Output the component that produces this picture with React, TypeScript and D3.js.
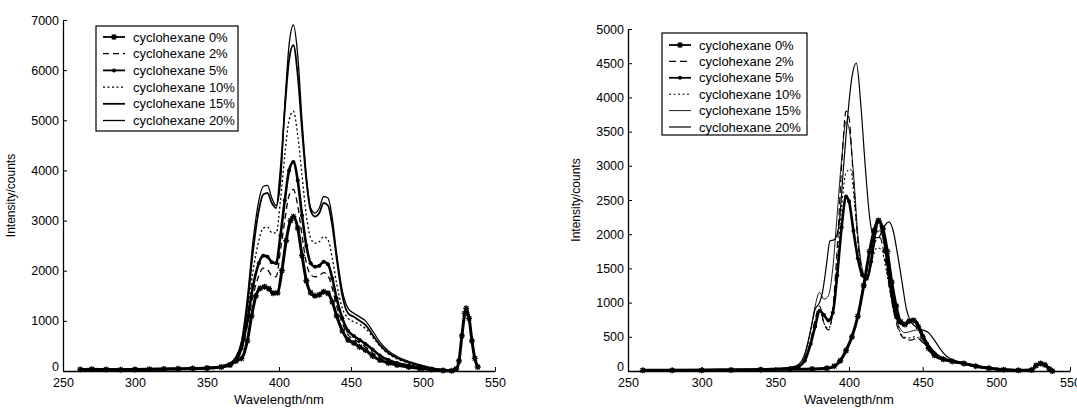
import React, { useRef, useEffect } from "react";
import * as d3 from "d3";

type Pt = [number, number];

// legend labels
const labels = [
  "cyclohexane 0%",
  "cyclohexane 2%",
  "cyclohexane 5%",
  "cyclohexane 10%",
  "cyclohexane 15%",
  "cyclohexane 20%",
];

const xTicks = [250, 300, 350, 400, 450, 500, 550];
const leftYTicks = [0, 1000, 2000, 3000, 4000, 5000, 6000, 7000];
const rightYTicks = [0, 500, 1000, 1500, 2000, 2500, 3000, 3500, 4000, 4500, 5000];

// ---- left panel ----
const left0: Pt[] = [[262,30],[270,35],[280,30],[290,25],[300,30],[310,35],[320,40],[330,45],[340,50],[350,60],[360,80],[366,120],[370,200],[374,250],[378,600],[381,1100],[384,1500],[387,1650],[390,1680],[393,1640],[396,1550],[399,1560],[402,2000],[405,2600],[408,3000],[410,3080],[413,2850],[416,2300],[419,1800],[422,1560],[425,1500],[428,1520],[431,1580],[434,1550],[437,1380],[440,1100],[444,800],[448,620],[452,560],[456,480],[460,420],[465,300],[470,220],[476,160],[482,120],[490,80],[498,50],[506,30],[514,10],[520,5],[523,40],[525,200],[527,700],[529,1150],[530,1250],[532,1050],[534,600],[536,250],[538,80]];
const left2: Pt[] = [[262,20],[300,25],[350,50],[366,120],[370,200],[374,420],[378,900],[382,1500],[386,1900],[389,2050],[392,2020],[395,1900],[398,1880],[401,2400],[404,3000],[407,3500],[410,3620],[413,3300],[416,2700],[419,2150],[422,1920],[425,1880],[428,1900],[431,1960],[434,1900],[437,1650],[440,1300],[444,950],[448,720],[452,640],[456,560],[460,480],[465,360],[470,260],[476,180],[482,130],[490,90],[498,55],[506,30],[514,10],[520,0]];
const left5: Pt[] = [[262,25],[300,30],[350,55],[366,130],[370,220],[374,450],[378,1000],[382,1700],[386,2150],[389,2300],[392,2280],[395,2170],[398,2150],[401,2700],[404,3400],[407,4000],[410,4170],[413,3800],[416,3100],[419,2500],[422,2150],[425,2080],[428,2100],[431,2180],[434,2130],[437,1850],[440,1450],[444,1050],[448,800],[452,700],[456,620],[460,540],[465,430],[470,310],[476,220],[482,160],[490,110],[498,70],[506,40],[514,15],[520,5]];
const left10: Pt[] = [[262,20],[300,25],[350,60],[366,140],[370,240],[374,500],[378,1150],[382,2000],[386,2600],[389,2850],[392,2870],[395,2760],[398,2750],[401,3400],[404,4300],[407,5000],[410,5180],[413,4700],[416,3900],[419,3100],[422,2650],[425,2550],[428,2580],[431,2680],[434,2620],[437,2250],[440,1750],[444,1250],[448,1050],[452,980],[456,930],[460,850],[465,680],[470,500],[476,340],[482,240],[490,160],[498,100],[506,50],[514,20],[520,5]];
const left15: Pt[] = [[262,20],[300,25],[350,60],[366,150],[370,260],[374,550],[378,1300],[382,2400],[386,3200],[389,3520],[392,3550],[395,3350],[398,3250],[401,4000],[404,5200],[407,6200],[410,6500],[413,5900],[416,4800],[419,3800],[422,3200],[425,3080],[428,3150],[431,3350],[434,3300],[437,2900],[440,2250],[444,1500],[448,1150],[452,1080],[456,1000],[460,920],[465,720],[470,520],[476,360],[482,260],[490,170],[498,110],[506,55],[514,20],[520,5]];
const left20: Pt[] = [[262,20],[300,25],[350,60],[366,160],[370,280],[374,600],[378,1450],[382,2600],[386,3400],[389,3680],[392,3700],[395,3450],[398,3300],[401,3750],[404,5300],[407,6500],[410,6900],[413,6300],[416,5000],[419,3900],[422,3250],[425,3150],[428,3250],[431,3480],[434,3450],[437,3050],[440,2350],[444,1600],[448,1250],[452,1150],[456,1080],[460,1000],[465,800],[470,580],[476,400],[482,290],[490,190],[498,120],[506,60],[514,20],[520,5]];

// ---- right panel ----
const right0: Pt[] = [[260,10],[280,10],[300,10],[320,15],[340,20],[360,25],[375,30],[385,40],[390,70],[394,150],[398,300],[402,500],[406,800],[410,1250],[414,1750],[417,2050],[420,2200],[423,2080],[426,1750],[429,1300],[432,950],[435,720],[438,680],[441,730],[444,740],[447,650],[450,500],[454,330],[458,230],[464,170],[470,140],[478,110],[486,70],[495,40],[505,20],[515,10],[524,15],[527,80],[530,110],[533,90],[536,30],[538,0]];
const right2: Pt[] = [[260,5],[300,10],[350,25],[366,70],[370,180],[374,450],[377,750],[380,950],[383,700],[386,600],[389,900],[392,1800],[395,3000],[398,3800],[400,3700],[403,2800],[406,1900],[409,1450],[412,1350],[415,1600],[418,1900],[421,1950],[424,1700],[427,1300],[430,900],[434,580],[438,470],[442,450],[446,480],[450,420],[455,280],[462,180],[470,140],[480,90],[492,50],[505,20],[520,5]];
const right5: Pt[] = [[260,10],[300,15],[340,25],[360,40],[366,70],[370,150],[374,400],[377,650],[380,880],[383,820],[386,740],[389,850],[392,1400],[395,2100],[398,2550],[400,2480],[403,2050],[406,1650],[409,1400],[412,1350],[415,1600],[418,2050],[420,2200],[422,2120],[425,1750],[428,1250],[431,880],[434,720],[437,680],[440,720],[443,750],[446,700],[449,570],[453,400],[458,260],[464,180],[470,150],[478,110],[486,70],[495,40],[505,20],[515,10],[524,15],[527,80],[530,110],[533,90],[536,30],[538,0]];
const right10: Pt[] = [[260,5],[300,10],[350,25],[366,70],[370,170],[374,420],[377,700],[380,880],[383,700],[386,620],[389,850],[392,1600],[395,2400],[398,2900],[401,2950],[404,2400],[407,1700],[410,1380],[413,1400],[416,1650],[419,1800],[422,1780],[425,1500],[428,1150],[432,750],[436,520],[440,480],[445,500],[450,430],[455,300],[462,190],[470,140],[480,90],[492,50],[505,20],[520,5]];
const right15: Pt[] = [[260,5],[300,10],[350,25],[366,80],[370,220],[374,600],[377,950],[380,1150],[383,1050],[386,1100],[389,1500],[392,2300],[395,3100],[398,3650],[400,3550],[403,2900],[406,2000],[409,1500],[412,1350],[415,1650],[418,2000],[421,2050],[424,1850],[427,1400],[430,1000],[434,650],[438,560],[442,580],[446,600],[450,520],[455,360],[462,210],[470,150],[480,100],[492,55],[505,20],[520,5]];
const right20: Pt[] = [[260,5],[300,10],[350,30],[362,60],[366,100],[370,250],[374,600],[377,900],[380,1000],[382,1150],[385,1600],[387,1900],[390,1920],[393,2100],[396,2900],[399,3700],[402,4300],[405,4500],[408,3900],[411,3000],[414,2250],[417,1950],[420,1950],[423,2080],[427,2180],[430,2050],[433,1700],[436,1300],[439,900],[442,720],[446,640],[450,600],[454,560],[458,450],[462,320],[466,220],[472,150],[480,110],[490,60],[500,30],[510,10],[520,0]];

type Style = { dash?: string; width: number; marker?: "star" | "dot" };

const FONT = "'Liberation Sans', Arial, sans-serif";

const Marker = ({ kind, x, y }: { kind: "star" | "dot"; x: number; y: number }) =>
  kind === "dot" ? (
    <circle cx={x} cy={y} r={2} fill="#000" />
  ) : (
    <path
      d={`M${x - 3},${y}H${x + 3}M${x},${y - 3}V${y + 3}M${x - 2.2},${y - 2.2}L${x + 2.2},${y + 2.2}M${x - 2.2},${y + 2.2}L${x + 2.2},${y - 2.2}`}
      stroke="#000"
      strokeWidth={1.3}
    />
  );

function Panel({
  ox, x0, x1, yTop, yMax, yTicks, series, styles, legend,
}: {
  ox: number; x0: number; x1: number; yTop: number; yMax: number; yTicks: number[];
  series: Pt[][]; styles: Style[];
  legend: { x: number; y: number; w: number; h: number; row0: number; step: number };
}) {
  const xRef = useRef<SVGGElement>(null);
  const yRef = useRef<SVGGElement>(null);
  const y0 = 371;
  const x = d3.scaleLinear().domain([250, 550]).range([x0, x1]);
  const y = d3.scaleLinear().domain([0, yMax]).range([y0, yTop]);
  const line = d3.line<Pt>().x((d) => x(d[0])).y((d) => y(d[1])).curve(d3.curveMonotoneX);

  useEffect(() => {
    const font = (g: any) =>
      g.selectAll("text").attr("font-family", FONT).attr("font-size", 12.5).attr("fill", "#000");
    d3.select(xRef.current!)
      .call(d3.axisBottom(x).tickValues(xTicks).tickFormat(d3.format("d")).tickSize(-4).tickSizeOuter(0).tickPadding(7) as any)
      .call(font)
      .call((g: any) => g.select(".domain").attr("stroke-width", 1.3));
    d3.select(yRef.current!)
      .call(d3.axisLeft(y).tickValues(yTicks).tickFormat(d3.format("d")).tickSize(-4).tickSizeOuter(0).tickPadding(4) as any)
      .call(font)
      .call((g: any) => g.select(".domain").attr("stroke-width", 1.3))
      // the zero label sits a little above the x axis, as in the original
      .call((g: any) => g.selectAll(".tick text").filter((d: number) => d === 0).attr("dy", "-0.05em"));
  }, []);

  return (
    <g>
      {series.map((s, i) => (
        <g key={i}>
          <path d={line(s)!} fill="none" stroke="#000" strokeWidth={styles[i].width} strokeDasharray={styles[i].dash} strokeLinejoin="round" />
          {styles[i].marker && s.map((d, j) => <Marker key={j} kind={styles[i].marker!} x={x(d[0])} y={y(d[1])} />)}
        </g>
      ))}
      <g ref={xRef} transform={`translate(0,${y0})`} />
      <g ref={yRef} transform={`translate(${x0},0)`} />
      <text x={(x0 + x1) / 2} y={404} textAnchor="middle" fontSize={13} fontFamily={FONT}>
        Wavelength/nm
      </text>
      <text transform={`translate(${ox},${(y0 + yTop) / 2}) rotate(-90)`} textAnchor="middle" fontSize={12} fontFamily={FONT}>
        Intensity/counts
      </text>
      <rect x={legend.x} y={legend.y} width={legend.w} height={legend.h} fill="#fff" stroke="#000" strokeWidth={1.2} />
      {labels.map((lab, i) => {
        const ly = legend.row0 + i * legend.step;
        const st = styles[i];
        const lx = legend.x + 7;
        return (
          <g key={lab}>
            <line x1={lx} x2={lx + 22} y1={ly} y2={ly} stroke="#000" strokeWidth={Math.min(st.width, 1.8)} strokeDasharray={st.dash} />
            {st.marker && <Marker kind={st.marker} x={lx + 11} y={ly} />}
            <text x={lx + 30} y={ly} dy="0.35em" fontSize={13} fontFamily={FONT}>
              {lab}
            </text>
          </g>
        );
      })}
    </g>
  );
}

export default function App() {
  const leftStyles: Style[] = [
    { width: 3, marker: "star" },
    { width: 1.3, dash: "6,4" },
    { width: 2.6, marker: "dot" },
    { width: 1.3, dash: "2,2.5" },
    { width: 1.8 },
    { width: 1.3 },
  ];
  const rightStyles: Style[] = [
    { width: 3, marker: "star" },
    { width: 1.2, dash: "7,4" },
    { width: 2.6, marker: "dot" },
    { width: 1.1, dash: "2,2.5" },
    { width: 0.9 },
    { width: 1.2 },
  ];
  return (
    <div style={{ position: "absolute", left: 0, top: 0 }}>
      <svg width={1077} height={409} style={{ display: "block", background: "#fff" }}>
        <Panel
          ox={15} x0={63} x1={495} yTop={20} yMax={7000} yTicks={leftYTicks}
          series={[left0, left2, left5, left10, left15, left20]} styles={leftStyles}
          legend={{ x: 96, y: 26, w: 142, h: 105, row0: 37, step: 16.7 }}
        />
        <Panel
          ox={580} x0={628} x1={1070} yTop={29} yMax={5000} yTicks={rightYTicks}
          series={[right0, right2, right5, right10, right15, right20]} styles={rightStyles}
          legend={{ x: 662, y: 33, w: 145, h: 102, row0: 45, step: 16.4 }}
        />
      </svg>
    </div>
  );
}
